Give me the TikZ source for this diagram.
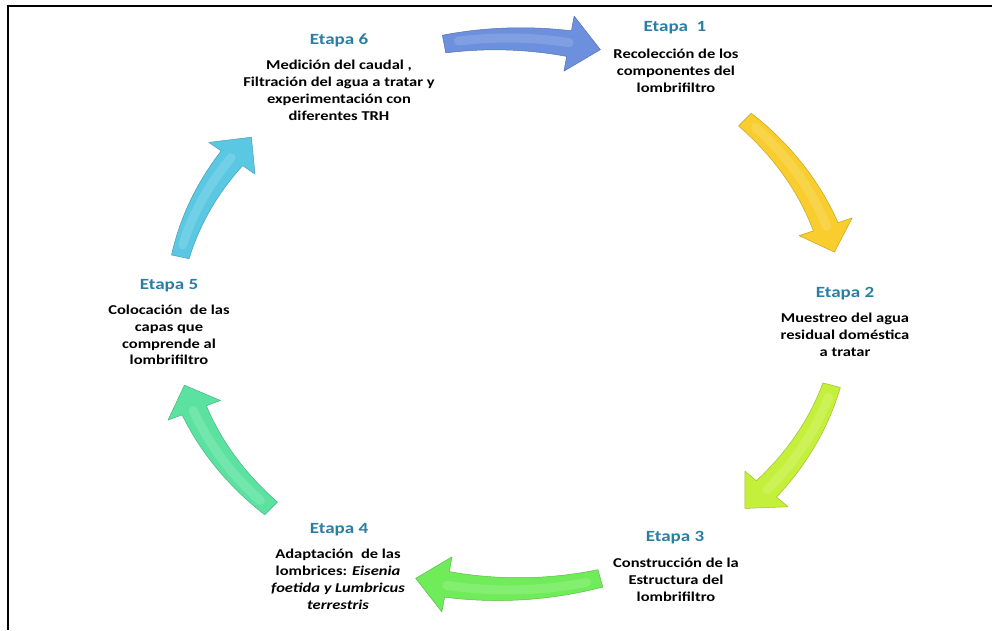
\documentclass[tikz,border=0pt]{standalone}
\usepackage{fontspec}
\setmainfont{Carlito}
\definecolor{etapa}{RGB}{42,126,163}
\definecolor{cblue}{RGB}{108,143,222}
\definecolor{cyellow}{RGB}{248,205,45}
\definecolor{cyg}{RGB}{196,240,60}
\definecolor{cgreen}{RGB}{112,236,90}
\definecolor{cteal}{RGB}{92,226,160}
\definecolor{ccyan}{RGB}{90,200,226}
\tikzset{
  lbl/.style={font=\fontsize{19}{22}\selectfont\bfseries, text=etapa, yscale=0.82, inner sep=0pt},
  txt/.style={font=\fontsize{16.5}{20.5}\selectfont\bfseries, align=center, yscale=0.82, inner sep=0pt},
  arr/.style={fill=#1, draw=#1!80!black, line width=0.5pt, line join=round},
  glow/.style={draw=white, opacity=0.14, line width=9pt, line cap=round},
}
% cx, cy, Rx, Ry
\def\cx{508}\def\cy{316}\def\rx{335}\def\ry{275}
\newcommand{\cycarrow}[3]{%
  \pgfmathsetmacro{\tb}{#2+5.5}%
  \filldraw[arr=#3]
    plot[domain=#1:\tb, samples=30] ({\cx+(\rx+(9+4*(#1-\x)/(#1-\tb)))*cos(\x)}, {\cy+(\ry+(9+4*(#1-\x)/(#1-\tb)))*sin(\x)})
    -- ({\cx+(\rx+28)*cos(\tb)}, {\cy+(\ry+28)*sin(\tb)})
    -- ({\cx+\rx*cos(#2)}, {\cy+\ry*sin(#2)})
    -- ({\cx+(\rx-28)*cos(\tb)}, {\cy+(\ry-28)*sin(\tb)})
    -- plot[domain=\tb:#1, samples=30] ({\cx+(\rx-(9+4*(#1-\x)/(#1-\tb)))*cos(\x)}, {\cy+(\ry-(9+4*(#1-\x)/(#1-\tb)))*sin(\x)})
    -- cycle;%
  \draw[glow] plot[domain=#1-2.5:\tb, samples=20] ({\cx+(\rx+1)*cos(\x)}, {\cy+(\ry+1)*sin(\x)});%
}
\begin{document}
\begin{tikzpicture}[x=1pt,y=1pt]
\useasboundingbox (0,0) rectangle (992,630);
\fill[white] (0,0) rectangle (992,630);
\draw[line width=2pt] (8,0) -- (8,624) -- (992,624);

\cycarrow{101}{74}{cblue}
\cycarrow{45}{13}{cyellow}
\cycarrow{-15}{-45}{cyg}
\cycarrow{-74}{-106}{cgreen}
\cycarrow{-135}{-165}{cteal}
\cycarrow{168}{140}{ccyan}

\node[lbl] (e6) at (339,590) {Etapa 6};
\node[txt] (t6) at (339,539.5) {Medición del caudal ,\\Filtración del agua a tratar y\\experimentación con\\diferentes TRH};
\node[lbl] (e1) at (675,602) {Etapa \ 1};
\node[txt] (t1) at (676,559) {Recolección de los\\componentes del\\lombrifiltro};
\node[lbl] (e2) at (845,336) {Etapa 2};
\node[txt] (t2) at (845,295) {Muestreo del agua\\residual doméstica\\a tratar};
\node[lbl] (e3) at (675,92) {Etapa 3};
\node[txt] (t3) at (676,50) {Construcción de la\\Estructura del\\lombrifiltro};
\node[lbl] (e4) at (339,100) {Etapa 4};
\node[txt] (t4) at (338,50.5) {Adaptación \ de las\\lombrices: \textit{Eisenia}\\\textit{foetida y Lumbricus}\\\textit{terrestris}};
\node[lbl] (e5) at (169,344) {Etapa 5};
\node[txt] (t5) at (169,295) {Colocación \ de las\\capas que\\comprende al\\lombrifiltro};
\end{tikzpicture}
\end{document}
